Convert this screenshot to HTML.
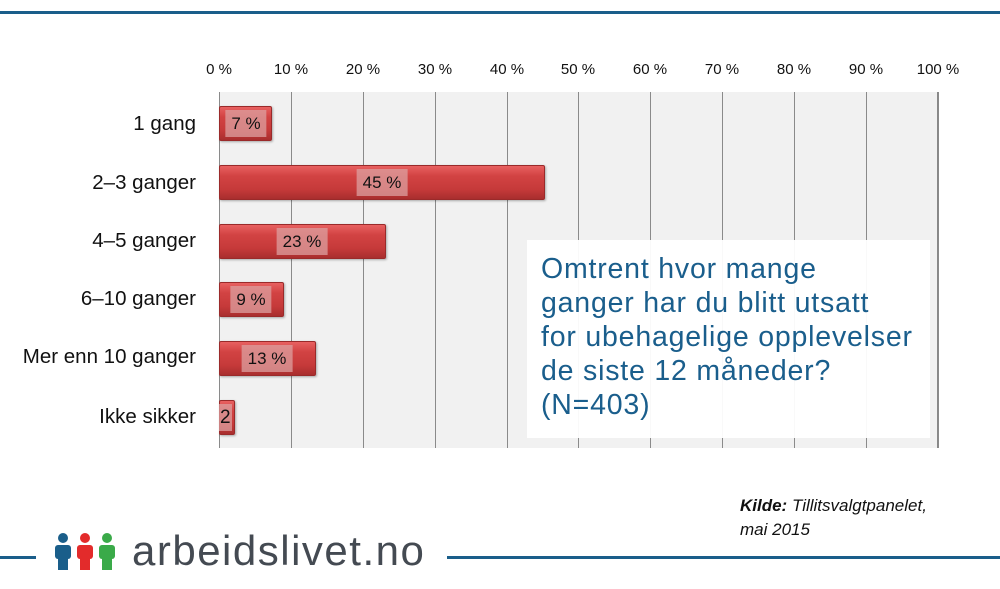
<!DOCTYPE html>
<html><head><style>
body{margin:0;width:1000px;height:589px;background:#fff;position:relative;overflow:hidden;font-family:"Liberation Sans",sans-serif}
.a{position:absolute}
.tick{position:absolute;top:61px;font-size:15px;color:#111;transform:translateX(-50%)}
.g{position:absolute;top:92px;height:356px;width:1px;background:#8a8a8a}
.lab{position:absolute;right:804px;font-size:20.5px;color:#111;text-align:right;white-space:nowrap}
.bar{position:absolute;left:219px;height:35px;background:linear-gradient(#e86060,#d24343 30%,#c63a3a 70%,#a82e2e);border:1px solid #9a2a2a;box-sizing:border-box;border-radius:2px;box-shadow:1px 1px 2px rgba(0,0,0,.3)}
.val{position:absolute;height:27px;background:rgba(220,160,160,.75);font-size:17px;color:#111;line-height:27px;text-align:center;transform:translateX(-50%);padding:0 6px}
</style></head><body>
<div class="a" style="left:0;top:11px;width:1000px;height:3px;background:#1a5e8a"></div>
<div class="a" style="left:219px;top:92px;width:719px;height:356px;background:#f1f1f1;border-right:1px solid #888;box-sizing:border-box"></div>
<div class="g" style="left:219px"></div><div class="g" style="left:291px"></div><div class="g" style="left:363px"></div><div class="g" style="left:435px"></div><div class="g" style="left:507px"></div><div class="g" style="left:578px"></div><div class="g" style="left:650px"></div><div class="g" style="left:722px"></div><div class="g" style="left:794px"></div><div class="g" style="left:866px"></div><div class="g" style="left:938px"></div>
<div class="tick" style="left:219px">0 %</div><div class="tick" style="left:291px">10 %</div><div class="tick" style="left:363px">20 %</div><div class="tick" style="left:435px">30 %</div><div class="tick" style="left:507px">40 %</div><div class="tick" style="left:578px">50 %</div><div class="tick" style="left:650px">60 %</div><div class="tick" style="left:722px">70 %</div><div class="tick" style="left:794px">80 %</div><div class="tick" style="left:866px">90 %</div><div class="tick" style="left:938px">100 %</div>
<div class="lab" style="top:112px">1 gang</div>
<div class="lab" style="top:171px">2–3 ganger</div>
<div class="lab" style="top:229px">4–5 ganger</div>
<div class="lab" style="top:287px">6–10 ganger</div>
<div class="lab" style="top:345px">Mer enn 10 ganger</div>
<div class="lab" style="top:405px">Ikke sikker</div>
<div class="bar" style="top:106px;width:53px"></div>
<div class="bar" style="top:165px;width:326px"></div>
<div class="bar" style="top:224px;width:167px"></div>
<div class="bar" style="top:282px;width:65px"></div>
<div class="bar" style="top:341px;width:97px"></div>
<div class="bar" style="top:400px;width:16px"></div>
<div class="val" style="left:246px;top:110px">7 %</div>
<div class="val" style="left:382px;top:169px">45 %</div>
<div class="val" style="left:302px;top:228px">23 %</div>
<div class="val" style="left:251px;top:286px">9 %</div>
<div class="val" style="left:267px;top:345px">13 %</div>
<div class="a" style="left:219px;top:404px;height:27px;line-height:27px;font-size:19px;color:#111;background:rgba(220,160,160,.75);padding:0 1px">2</div>
<div class="a" style="left:527px;top:240px;width:403px;height:198px;background:rgba(255,255,255,.95)"></div>
<div class="a" style="left:541px;top:252px;font-size:28.5px;letter-spacing:0.8px;line-height:34px;color:#1a5e8c;white-space:nowrap">Omtrent hvor mange<br>ganger har du blitt utsatt<br>for ubehagelige opplevelser<br>de siste 12 måneder?<br>(N=403)</div>
<div class="a" style="left:740px;top:494px;font-size:17px;line-height:24px;font-style:italic;color:#111"><b>Kilde:</b> Tillitsvalgtpanelet,<br>mai 2015</div>
<div class="a" style="left:0;top:556px;width:36px;height:3px;background:#1a5e8a"></div>
<div class="a" style="left:447px;top:556px;width:553px;height:3px;background:#1a5e8a"></div>
<svg class="a" style="left:53px;top:532px" width="65" height="40">
<g fill="#1a5e8a"><circle cx="10" cy="6" r="5"/><rect x="2" y="13" width="16" height="14" rx="3"/><rect x="5" y="20" width="10" height="18"/></g>
<g fill="#e32b2b" transform="translate(22,0)"><circle cx="10" cy="6" r="5"/><rect x="2" y="13" width="16" height="14" rx="3"/><rect x="5" y="20" width="10" height="18"/></g>
<g fill="#3aaa49" transform="translate(44,0)"><circle cx="10" cy="6" r="5"/><rect x="2" y="13" width="16" height="14" rx="3"/><rect x="5" y="20" width="10" height="18"/></g>
</svg>
<div class="a" style="left:132px;top:527px;font-size:42px;color:#444a52;letter-spacing:1.5px">arbeidslivet.no</div>
</body></html>
